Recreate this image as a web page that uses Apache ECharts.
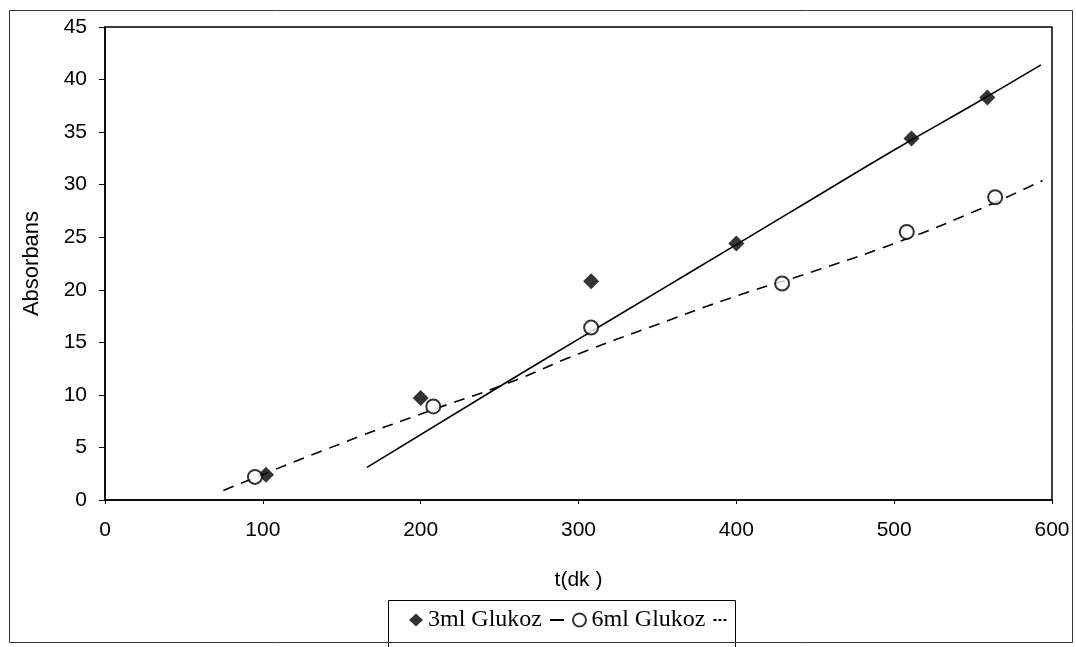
<!DOCTYPE html>
<html>
<head>
<meta charset="utf-8">
<script src="https://cdn.jsdelivr.net/npm/echarts@6/dist/echarts.min.js"></script>
<style>
  html, body { margin: 0; padding: 0; background: #fff; }
  #main { width: 1076px; height: 647px; }
</style>
</head>
<body>
<div id="main"></div>
<script>
// olculen noktalar (t, absorbans)
var glukoz3 = [[102, 2.4], [200, 9.7], [308, 20.8], [400, 24.4], [511, 34.4], [559, 38.3]];
var glukoz6 = [[95, 2.2], [208, 8.9], [308, 16.4], [429, 20.6], [508, 25.5], [564, 28.8]];
// trend cizgileri, resimden okunan noktalar
var trend3 = [[166, 3.1], [250, 10.8], [300, 15.3], [350, 19.8], [400, 24.3], [450, 28.8], [500, 33.3], [550, 37.6], [593, 41.4]];
var trend6 = [[75, 0.9], [150, 5.4], [208, 8.6], [255, 11.1], [300, 13.9], [350, 16.7], [400, 19.4], [450, 21.8], [500, 24.4], [550, 27.4], [594, 30.4]];
var xTicks = [0, 100, 200, 300, 400, 500, 600];
var yTicks = [0, 5, 10, 15, 20, 25, 30, 35, 40, 45];

var chart = echarts.init(document.getElementById('main'));

var axisFont = { fontFamily: 'Liberation Sans', fontSize: 21, color: '#000' };
var hidden = { color: 'rgba(0,0,0,0)', borderWidth: 0 };

var option = {
  backgroundColor: '#fff',
  animation: false,
  grid: {
    left: 105,
    top: 27,
    right: 24,
    bottom: 147,
    show: true,
    borderColor: '#000',
    borderWidth: 1.5
  },
  xAxis: {
    type: 'value',
    min: xTicks[0],
    max: xTicks[xTicks.length - 1],
    interval: 100,
    name: 't(dk )',
    nameLocation: 'middle',
    nameGap: 70,
    nameTextStyle: { fontFamily: 'Liberation Sans', fontSize: 21, color: '#000' },
    axisLine: { show: true, onZero: false, lineStyle: { color: '#000', width: 1.5 } },
    axisTick: { show: true, length: 4, lineStyle: { color: '#000' } },
    axisLabel: Object.assign({ margin: 20 }, axisFont),
    splitLine: { show: false }
  },
  yAxis: {
    type: 'value',
    min: yTicks[0],
    max: yTicks[yTicks.length - 1],
    interval: 5,
    name: 'Absorbans',
    nameLocation: 'middle',
    nameGap: 62,
    nameRotate: 90,
    nameTextStyle: { fontFamily: 'Liberation Sans', fontSize: 22, color: '#000' },
    axisLine: { show: true, lineStyle: { color: '#000', width: 1.5 } },
    axisTick: { show: true, length: 6, lineStyle: { color: '#000' } },
    axisLabel: Object.assign({ margin: 18 }, axisFont),
    splitLine: { show: false }
  },
  legend: {
    left: 404,
    top: 603,
    itemGap: 7,
    itemWidth: 14,
    itemHeight: 13,
    textStyle: { fontFamily: 'Liberation Serif', fontSize: 24, color: '#000' },
    formatter: function (name) {
      return name.indexOf('trend') === 0 ? '' : name;
    },
    data: [
      { name: '3ml Glukoz', icon: 'diamond', itemStyle: { color: '#000' } },
      { name: 'trend 3ml', itemStyle: hidden },
      { name: '6ml Glukoz', icon: 'circle', itemStyle: { color: '#fff', borderColor: '#000', borderWidth: 2 } },
      { name: 'trend 6ml', itemStyle: hidden, lineStyle: { type: [3, 2] } }
    ]
  },
  graphic: [
    {
      type: 'rect',
      shape: { x: 9.5, y: 10.5, width: 1063, height: 632 },
      style: { fill: 'none', stroke: '#333', lineWidth: 1 },
      silent: true
    },
    {
      type: 'rect',
      shape: { x: 388.5, y: 600.5, width: 347, height: 60 },
      style: { fill: '#fff', stroke: '#000', lineWidth: 1 },
      z: -1,
      silent: true
    }
  ],
  series: [
    {
      name: 'trend 3ml',
      type: 'line',
      data: trend3,
      smooth: true,
      symbol: 'none',
      itemStyle: { color: '#000' },
      lineStyle: { color: '#000', width: 1.6, type: 'solid' },
      z: 2
    },
    {
      name: 'trend 6ml',
      type: 'line',
      data: trend6,
      smooth: true,
      symbol: 'none',
      itemStyle: { color: '#000' },
      lineStyle: { color: '#000', width: 1.6, type: [11, 8] },
      z: 2
    },
    {
      name: '3ml Glukoz',
      type: 'scatter',
      data: glukoz3,
      symbol: 'diamond',
      symbolSize: 16,
      itemStyle: { color: '#000' },
      z: 3
    },
    {
      name: '6ml Glukoz',
      type: 'scatter',
      data: glukoz6,
      symbol: 'circle',
      symbolSize: 14,
      itemStyle: { color: '#fff', borderColor: '#000', borderWidth: 2 },
      z: 3
    }
  ]
};

chart.setOption(option);
</script>
</body>
</html>
